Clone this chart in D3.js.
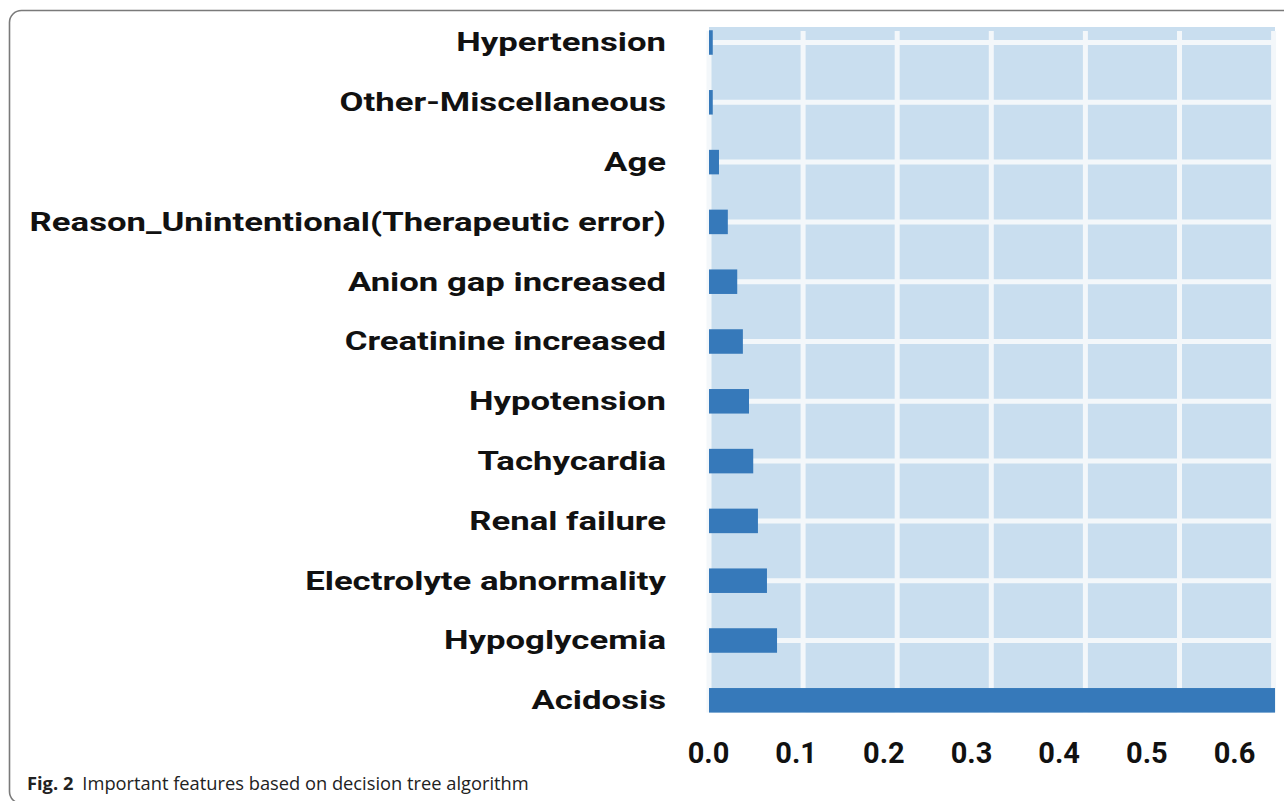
<!DOCTYPE html>
<html>
<head>
<meta charset="utf-8">
<script src="https://cdn.jsdelivr.net/npm/d3@7"></script>
<style>
  html, body { margin: 0; padding: 0; background: #fff; }
  svg { display: block; }
  .lbl { font-family: Roboto, sans-serif; font-weight: 700; fill: #111; }
  .cap { font-family: "Open Sans", sans-serif; fill: #222; }
</style>
</head>
<body>
<svg id="chart" width="1284" height="801"></svg>
<script>
// feature importances, top to bottom as drawn
let features = ["Hypertension", "Other-Miscellaneous", "Age", "Reason_Unintentional(Therapeutic error)",
    "Anion gap increased", "Creatinine increased", "Hypotension", "Tachycardia", "Renal failure",
    "Electrolyte abnormality", "Hypoglycemia", "Acidosis"];
let importance = [0.004, 0.004, 0.0106, 0.020, 0.030, 0.036, 0.0425, 0.047, 0.052, 0.0616, 0.0723, 0.6015];
let tickValues = [0, 0.1, 0.2, 0.3, 0.4, 0.5, 0.6];

let svg = d3.select("#chart");

// frame around the figure
svg.append("rect")
    .attr("x", 9.5).attr("y", 10.5)
    .attr("width", 1400).attr("height", 793)
    .attr("rx", 12).attr("ry", 12)
    .attr("fill", "none")
    .attr("stroke", "#7a7a7a")
    .attr("stroke-width", 1.6);

let x = d3.scaleLinear()
    .domain([0, 0.6])
    .range([709, 1273.6]);

// tick labels sit on their own spacing in the figure
let xLab = d3.scaleLinear()
    .domain([0, 0.6])
    .range([708, 1234]);

let y = d3.scaleBand()
    .domain(features)
    .range([12.6, 730.2])
    .paddingInner(0.59)
    .paddingOuter(0.295);

// plot background
svg.append("rect")
    .attr("x", x(0)).attr("y", 27)
    .attr("width", 1275 - x(0)).attr("height", y("Acidosis") + y.bandwidth() - 27)
    .attr("fill", "#c9deef");

let grid = svg.append("g").attr("stroke", "#f3f7fa").attr("stroke-width", 5);

grid.selectAll(".v")
    .data(tickValues)
    .enter().append("line")
    .attr("x1", d => x(d)).attr("x2", d => x(d))
    .attr("y1", 31).attr("y2", y("Acidosis") + y.bandwidth());

grid.selectAll(".h")
    .data(features)
    .enter().append("line")
    .attr("x1", x(0)).attr("x2", 1275)
    .attr("y1", d => y(d) + y.bandwidth() / 2)
    .attr("y2", d => y(d) + y.bandwidth() / 2);

svg.append("g")
    .selectAll("rect")
    .data(features)
    .enter().append("rect")
    .attr("x", x(0))
    .attr("y", d => y(d))
    .attr("width", (d, i) => x(importance[i]) - x(0))
    .attr("height", y.bandwidth())
    .attr("fill", "#3679ba");

// category labels (the figure stretches them sideways)
svg.append("g")
    .selectAll("text")
    .data(features)
    .enter().append("text")
    .attr("class", "lbl")
    .attr("transform", d => "translate(666," + (y(d) + y.bandwidth() / 2) + ") scale(1.335,1)")
    .attr("dy", "0.34em")
    .attr("text-anchor", "end")
    .style("font-size", "26px")
    .text(d => d);

// x axis labels
let xAxis = d3.axisBottom(xLab)
    .tickValues(tickValues)
    .tickFormat(d3.format(".1f"))
    .tickSize(0)
    .tickPadding(0);

let gx = svg.append("g")
    .attr("transform", "translate(0,742)")
    .call(xAxis);
gx.select(".domain").remove();
gx.selectAll("text")
    .attr("class", "lbl")
    .attr("dy", "0.71em")
    .attr("fill", "#111")
    .style("font-size", "29px");

// caption
let cap = svg.append("text")
    .attr("class", "cap")
    .attr("x", 27)
    .attr("y", 790)
    .style("font-size", "18.3px");
cap.append("tspan").style("font-weight", 700).text("Fig. 2");
cap.append("tspan").attr("dx", 9).text("Important features based on decision tree algorithm");
</script>
</body>
</html>
